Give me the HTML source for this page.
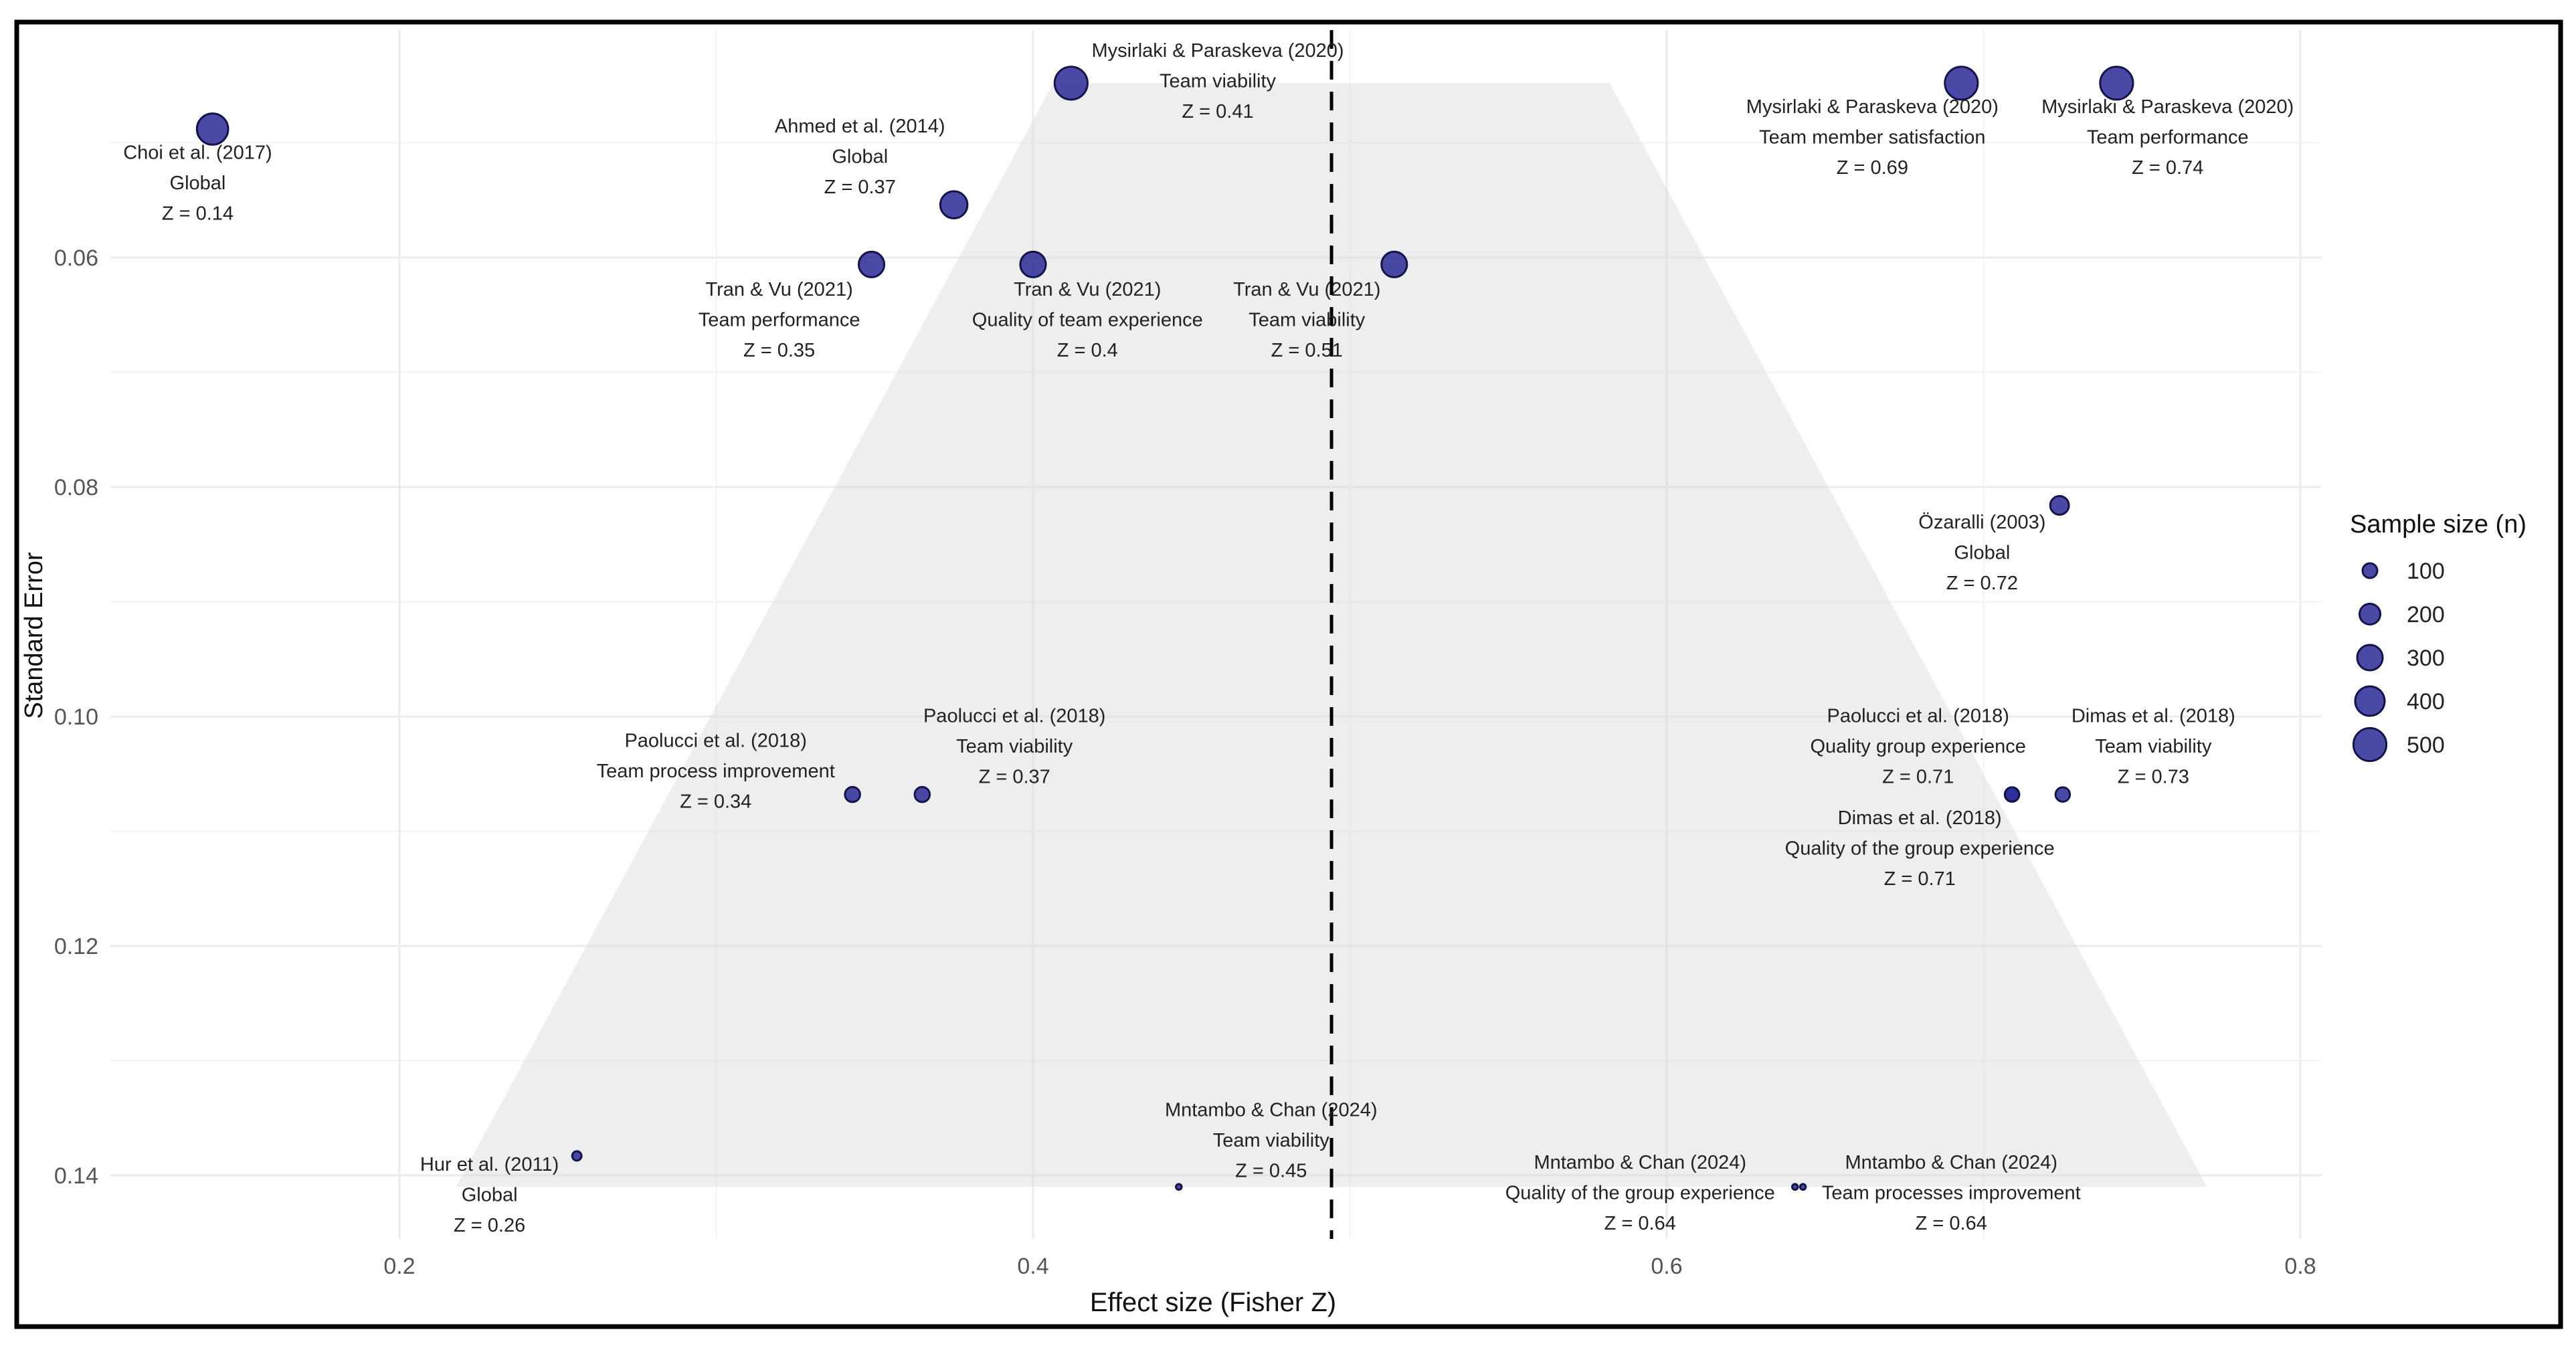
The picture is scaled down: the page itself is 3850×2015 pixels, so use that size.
<!DOCTYPE html>
<html>
<head>
<meta charset="utf-8">
<style>
html,body{margin:0;padding:0;background:#fff;}
svg{display:block;font-family:"Liberation Sans",Arial,sans-serif;}
</style>
</head>
<body>
<svg id="chart" width="3850" height="2015" viewBox="0 0 3850 2015" xmlns="http://www.w3.org/2000/svg">
<rect x="0" y="0" width="3850" height="2015" fill="#fff"/>
<g id="grid"></g>
<g id="funnel"></g>
<g id="axes"></g>
<g id="points"></g>
<g id="labels"></g>
<g id="legend"></g>
<rect x="25" y="33" width="3802" height="1950" fill="none" stroke="#000" stroke-width="7"/>
</svg>
<script>
// ---- data ----
const studies = ["Choi et al. (2017)","Mysirlaki & Paraskeva (2020)","Mysirlaki & Paraskeva (2020)","Mysirlaki & Paraskeva (2020)","Ahmed et al. (2014)","Tran & Vu (2021)","Tran & Vu (2021)","Tran & Vu (2021)","Özaralli (2003)","Paolucci et al. (2018)","Paolucci et al. (2018)","Paolucci et al. (2018)","Dimas et al. (2018)","Dimas et al. (2018)","Mntambo & Chan (2024)","Mntambo & Chan (2024)","Mntambo & Chan (2024)","Hur et al. (2011)"];
const outcomes = ["Global","Team viability","Team member satisfaction","Team performance","Global","Team performance","Quality of team experience","Team viability","Global","Team process improvement","Team viability","Quality group experience","Team viability","Quality of the group experience","Team viability","Quality of the group experience","Team processes improvement","Global"];
const effectZ = [0.141,0.412,0.693,0.742,0.375,0.349,0.400,0.514,0.724,0.343,0.365,0.709,0.725,0.709,0.446,0.6405,0.643,0.256];
const zLabels = ["0.14","0.41","0.69","0.74","0.37","0.35","0.4","0.51","0.72","0.34","0.37","0.71","0.73","0.71","0.45","0.64","0.64","0.26"];
const stdErr = [0.0488,0.0448,0.0448,0.0448,0.0554,0.0606,0.0606,0.0606,0.0816,0.1068,0.1068,0.1068,0.1068,0.1068,0.1410,0.1410,0.1410,0.1383];
const sampleN = [450,500,500,500,340,300,300,300,160,105,105,95,95,95,15,15,15,40];
const pooledZ = 0.4942;
const xTicks = [0.2,0.4,0.6,0.8];
const xMinor = [0.3,0.5,0.7];
const yTicks = [0.06,0.08,0.10,0.12,0.14];
const yTickLabels = ["0.06","0.08","0.10","0.12","0.14"];
const yMinor = [0.05,0.07,0.09,0.11,0.13];
const legendN = [100,200,300,400,500];
// label placement offsets (layout, in reference-image units relative to each point)
const labelDX = [-9,89,-54,31,-57,-56,33,-53,-47,-83,56,-57,55,-56,56,-94,90,-53];
const labelDY = [14,-20,14,14,-48,15,15,15,10,-33,-48,-48,-48,14,-47,-15,-15,5];

// ---- scales ----
const X = v => 597 + (v - 0.2) * 4735;
const Y = v => 385 + (v - 0.06) * 17150;
const R = n => 1.1 * Math.sqrt(n);
const NS = "http://www.w3.org/2000/svg";
function mk(tag, attrs, parent){
  const el = document.createElementNS(NS, tag);
  for (const k in attrs) el.setAttribute(k, attrs[k]);
  parent.appendChild(el);
  return el;
}
const PX0 = 165, PX1 = 3470, PY0 = 45, PY1 = 1852;

// ---- grid ----
const grid = document.getElementById('grid');
yMinor.forEach(v => {
  const l = mk('line',{x1:PX0,x2:PX1,y1:Y(v),y2:Y(v),stroke:'#f3f3f3','stroke-width':2},grid);
  
  
});
xMinor.forEach(v => {
  const l = mk('line',{x1:X(v),x2:X(v),y1:PY0,y2:PY1,stroke:'#f3f3f3','stroke-width':2},grid);
  
  
});
yTicks.forEach(v => {
  const l = mk('line',{x1:PX0,x2:PX1,y1:Y(v),y2:Y(v),stroke:'#ececec','stroke-width':3},grid);
  
  
});
xTicks.forEach(v => {
  const l = mk('line',{x1:X(v),x2:X(v),y1:PY0,y2:PY1,stroke:'#ececec','stroke-width':3},grid);
  
  
});

// ---- funnel ----
const seMin = Math.min(...stdErr), seMax = Math.max(...stdErr);
const fun = document.getElementById('funnel');
const pts = [[pooledZ-1.96*seMin,seMin],[pooledZ+1.96*seMin,seMin],[pooledZ+1.96*seMax,seMax],[pooledZ-1.96*seMax,seMax]]
  .map(p => X(p[0]).toFixed(1)+','+Y(p[1]).toFixed(1)).join(' ');
const poly = mk('polygon',{points:pts,fill:'#d9d9d9','fill-opacity':0.45},fun);


const dl = mk('line',{x1:X(pooledZ),x2:X(pooledZ),y1:PY0,y2:PY1,stroke:'#000','stroke-width':5,'stroke-dasharray':'28,18'},fun);



// ---- axes text ----
const axes = document.getElementById('axes');
xTicks.forEach(v => {
  const t = mk('text',{x:X(v),y:1904,'font-size':34,fill:'#555','text-anchor':'middle'},axes);
  t.textContent = String(v);
  
  
});
yTicks.forEach((v,i) => {
  const t = mk('text',{x:147,y:Y(v)+12,'font-size':34,fill:'#555','text-anchor':'end'},axes);
  t.textContent = yTickLabels[i];
  
  
});
const xt = mk('text',{x:1813,y:1960,'font-size':40,fill:'#111','text-anchor':'middle'},axes);
xt.textContent = 'Effect size (Fisher Z)';


const yt = mk('text',{x:0,y:0,'font-size':38,fill:'#111','text-anchor':'middle',transform:'translate(63,950) rotate(-90)'},axes);
yt.textContent = 'Standard Error';



// ---- points ----
const pg = document.getElementById('points');
effectZ.forEach((z,i) => {
  const c = mk('circle',{cx:X(z),cy:Y(stdErr[i]),r:R(sampleN[i]),fill:'#2a2a96','fill-opacity':0.85,stroke:'#14144a','stroke-width':3},pg);
  
  
});

// ---- labels ----
const lg = document.getElementById('labels');
const S = 2.463;
effectZ.forEach((z,i) => {
  const cx = X(z) + labelDX[i]*S;
  const cy = Y(stdErr[i]) + labelDY[i]*S;
  const t = mk('text',{x:cx,y:cy+10,'font-size':29,fill:'#222','text-anchor':'middle'},lg);
  
  
  [studies[i], outcomes[i], 'Z = '+zLabels[i]].forEach((s,k) => {
    const ts = mk('tspan',{x:cx,dy:k===0?0:45.5},t);
    ts.textContent = s;
  });
});

// ---- legend ----
const leg = document.getElementById('legend');
const lt = mk('text',{x:3512,y:796,'font-size':38,fill:'#111'},leg);
lt.textContent = 'Sample size (n)';


legendN.forEach((n,i) => {
  const cy = 853 + i*65;
  const c = mk('circle',{cx:3542,cy:cy,r:R(n),fill:'#2a2a96','fill-opacity':0.85,stroke:'#14144a','stroke-width':3},leg);
  
  
  const t = mk('text',{x:3597,y:cy+12,'font-size':34,fill:'#222'},leg);
  t.textContent = String(n);
  
  
});
</script>
</body>
</html>
